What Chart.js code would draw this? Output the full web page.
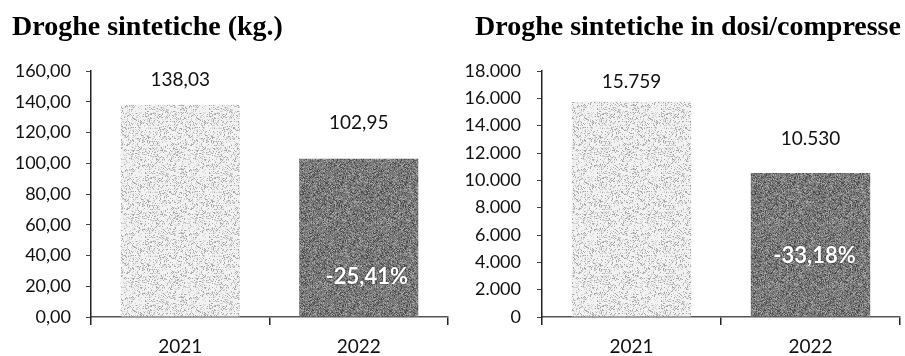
<!DOCTYPE html>
<html>
<head>
<meta charset="utf-8">
<script src="https://cdn.jsdelivr.net/npm/chart.js@4.4.1/dist/chart.umd.min.js"></script>
<style>
  html, body { margin: 0; padding: 0; background: #fff; }
  .wrap { position: absolute; top: 0; height: 356px; }
  #left { left: 0; width: 452px; }
  #right { left: 452px; width: 453px; }
</style>
</head>
<body>
<div class="wrap" id="left"><canvas id="kgChart" width="452" height="356"></canvas></div>
<div class="wrap" id="right"><canvas id="doseChart" width="453" height="356"></canvas></div>
<script>
// data
const years = ['2021', '2022'];

const kgValues = [138.03, 102.95];
const kgValueLabels = ['138,03', '102,95'];
const kgChange = '-25,41%';
const kgTicks = ['0,00', '20,00', '40,00', '60,00', '80,00', '100,00', '120,00', '140,00', '160,00'];

const doseValues = [15759, 10530];
const doseValueLabels = ['15.759', '10.530'];
const doseChange = '-33,18%';
const doseTicks = ['0', '2.000', '4.000', '6.000', '8.000', '10.000', '12.000', '14.000', '16.000', '18.000'];

const FONT = 'Lato, "Open Sans", sans-serif';

// scanned-looking fill: a fixed dither from an integer hash, no randomness
function hash(x, y) {
    let h = (x * 374761393 + y * 668265263) | 0;
    h = Math.imul(h ^ (h >>> 13), 1274126177);
    return ((h ^ (h >>> 16)) >>> 0) % 100;
}

function dither(base, dots) {
    const c = document.createElement('canvas');
    c.width = 64; c.height = 64;
    const g = c.getContext('2d');
    g.fillStyle = base;
    g.fillRect(0, 0, 64, 64);
    for (let y = 0; y < 64; y++) {
        for (let x = 0; x < 64; x++) {
            const h = hash(x, y);
            let acc = 0;
            for (const [col, pct] of dots) {
                if (h >= acc && h < acc + pct) {
                    g.fillStyle = col;
                    g.fillRect(x, y, 1, 1);
                }
                acc += pct;
            }
        }
    }
    return g.createPattern(c, 'repeat');
}

// title drawn in the reserved top band
const titleText = {
    id: 'titleText',
    beforeDraw(chart, args, opts) {
        const ctx = chart.ctx;
        ctx.save();
        ctx.font = 'bold 28px "Liberation Serif", serif';
        ctx.fillStyle = '#000';
        ctx.textBaseline = 'middle';
        ctx.textAlign = 'left';
        ctx.fillText(opts.text, opts.x, 28);
        ctx.restore();
    }
};

const valueLabels = {
    id: 'valueLabels',
    afterDatasetsDraw(chart, args, opts) {
        const ctx = chart.ctx;
        const bars = chart.getDatasetMeta(0).data;
        ctx.save();
        ctx.textAlign = 'center';
        ctx.textBaseline = 'middle';
        bars.forEach((bar, i) => {
            ctx.font = '19px ' + FONT;
            ctx.fillStyle = '#111';
            ctx.fillText(opts.labels[i], bar.x, bar.y - opts.lift[i]);
        });
        const last = bars[bars.length - 1];
        ctx.font = 'bold 22px ' + FONT;
        ctx.shadowColor = 'rgba(0,0,0,0.7)';
        ctx.shadowBlur = 2;
        ctx.fillStyle = '#fff';
        ctx.fillText(opts.change, last.x + opts.changeDx, last.base - opts.changeLift);
        ctx.restore();
    }
};

function makeChart(id, o) {
    const light = dither('#f2f2f2', [['#a8a8a8', 12], ['#cfcfcf', 18]]);
    const dark = dither('#7e7e7e', [['#4a4a4a', 14], ['#a6a6a6', 16], ['#626262', 16]]);

    return new Chart(document.getElementById(id), {
        type: 'bar',
        data: {
            labels: years,
            datasets: [{
                data: o.values,
                backgroundColor: [light, dark],
                borderWidth: 0,
                categoryPercentage: 1,
                barPercentage: 0.667
            }]
        },
        options: {
            responsive: false,
            animation: false,
            layout: { padding: { left: 12, right: o.padRight, bottom: 0, top: 71 } },
            plugins: {
                legend: { display: false },
                tooltip: { enabled: false },
                title: { display: false },
                titleText: { text: o.title, x: o.titleX },
                valueLabels: {
                    labels: o.valueLabels,
                    lift: o.lift,
                    change: o.change,
                    changeDx: o.changeDx,
                    changeLift: o.changeLift
                }
            },
            scales: {
                x: {
                    afterFit: (s) => { s.height = 39; },
                    border: { display: true, color: '#555', width: 1.5 },
                    grid: { offset: true, drawOnChartArea: false, drawTicks: true, tickLength: 8, color: '#222', lineWidth: 1.5 },
                    ticks: { color: '#111', font: { family: FONT, size: 19 }, padding: 10 }
                },
                y: {
                    min: 0,
                    max: o.max,
                    afterFit: (s) => { s.width = o.yWidth; },
                    border: { display: true, color: '#222', width: 1.5 },
                    grid: { drawOnChartArea: false, drawTicks: true, tickLength: 5, color: '#444' },
                    ticks: {
                        stepSize: o.step,
                        color: '#111',
                        font: { family: FONT, size: 18 },
                        padding: o.tickPad,
                        callback: (v, i) => o.ticks[i]
                    }
                }
            }
        },
        plugins: [titleText, valueLabels]
    });
}

makeChart('kgChart', {
    title: 'Droghe sintetiche (kg.)',
    titleX: 12,
    values: kgValues,
    valueLabels: kgValueLabels,
    change: kgChange,
    ticks: kgTicks,
    max: 160,
    step: 20,
    padRight: 4,
    yWidth: 79,
    tickPad: 15,
    lift: [25, 36],
    changeDx: 8,
    changeLift: 40
});

makeChart('doseChart', {
    title: 'Droghe sintetiche in dosi/compresse',
    titleX: 23,
    values: doseValues,
    valueLabels: doseValueLabels,
    change: doseChange,
    ticks: doseTicks,
    max: 18000,
    step: 2000,
    padRight: 5,
    yWidth: 78,
    tickPad: 16,
    lift: [20, 34],
    changeDx: 4,
    changeLift: 61
});
</script>
</body>
</html>
